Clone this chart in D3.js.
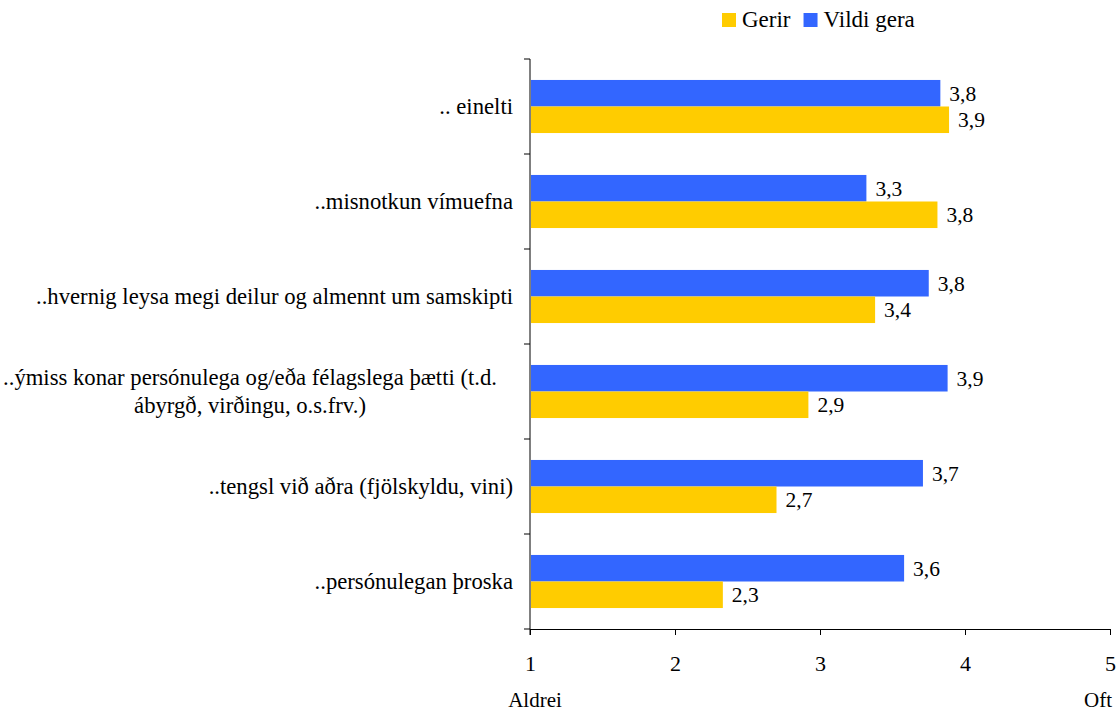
<!DOCTYPE html>
<html>
<head>
<meta charset="utf-8">
<script src="https://cdn.jsdelivr.net/npm/d3@7"></script>
<style>
  body { margin: 0; background: #fff; }
</style>
</head>
<body>
<div id="chart"></div>
<script>
const categories = [
  [".. einelti"],
  ["..misnotkun vímuefna"],
  ["..hvernig leysa megi deilur og almennt um samskipti"],
  ["..ýmiss konar persónulega og/eða félagslega þætti (t.d.", "ábyrgð, virðingu, o.s.frv.)"],
  ["..tengsl við aðra (fjölskyldu, vini)"],
  ["..persónulegan þroska"],
];
const vildiGera = [3.83, 3.32, 3.75, 3.88, 3.71, 3.58];
const gerir = [3.89, 3.81, 3.38, 2.92, 2.70, 2.33];
const series = [
  { name: "Vildi gera", values: vildiGera, color: "#3366ff" },
  { name: "Gerir", values: gerir, color: "#ffcc00" },
];
const legendOrder = ["Gerir", "Vildi gera"];
const xTicks = [1, 2, 3, 4, 5];

const width = 1119, height = 711;
const plot = { left: 530, right: 1110, top: 59, bottom: 629 };
const font = "'Liberation Serif', 'Times New Roman', serif";

const svg = d3.select("#chart").append("svg")
  .attr("width", width).attr("height", height)
  .style("font-family", font);

const x = d3.scaleLinear().domain([1, 5]).range([plot.left, plot.right]);
const y = d3.scaleBand().domain(d3.range(categories.length)).range([plot.top, plot.bottom]);
const inner = d3.scaleBand().domain(series.map(s => s.name))
  .range([0, y.bandwidth()]).paddingOuter(0.79).paddingInner(0);

const fmt = v => d3.format(".1f")(v).replace(".", ",");

// bars + value labels
series.forEach(s => {
  const g = svg.append("g");
  g.selectAll("rect").data(s.values).join("rect")
    .attr("x", x(1) + 1)
    .attr("y", (d, i) => y(i) + inner(s.name))
    .attr("width", d => x(d) - x(1) - 1)
    .attr("height", inner.bandwidth())
    .attr("fill", s.color);
  g.selectAll("text").data(s.values).join("text")
    .attr("x", d => x(d) + 9)
    .attr("y", (d, i) => y(i) + inner(s.name) + inner.bandwidth() / 2)
    .attr("dy", "0.35em")
    .style("font-family", font)
    .attr("font-size", 21.5)
    .text(d => fmt(d));
});

// y axis (band boundaries)
const yAxisG = svg.append("g");
yAxisG.append("line")
  .attr("x1", plot.left).attr("x2", plot.left).attr("y1", plot.top).attr("y2", plot.bottom + 6)
  .attr("stroke", "#000");
yAxisG.selectAll("line.tick").data(d3.range(categories.length + 1)).join("line")
  .attr("class", "tick")
  .attr("x1", plot.left - 6).attr("x2", plot.left)
  .attr("y1", i => plot.top + i * y.step()).attr("y2", i => plot.top + i * y.step())
  .attr("stroke", "#000");

// category labels
const catSize = 22.7;
categories.forEach((lines, i) => {
  const cy = y(i) + y.bandwidth() / 2;
  const t = svg.append("text").attr("font-size", catSize).style("font-family", font);
  if (lines.length === 1) {
    t.attr("x", 513).attr("y", cy).attr("dy", "0.35em")
      .attr("text-anchor", "end").text(lines[0]);
  } else {
    const widths = lines.map(l => {
      const e = svg.append("text").attr("font-size", catSize).style("font-family", font).text(l);
      const w = e.node().getComputedTextLength();
      e.remove();
      return w;
    });
    const cx = 497 - d3.max(widths) / 2;
    lines.forEach((l, j) => {
      t.append("tspan").attr("x", cx)
        .attr("y", cy + (j - (lines.length - 1) / 2) * 28)
        .attr("dy", "0.35em")
        .attr("text-anchor", "middle").text(l);
    });
  }
});

// x axis
const xAxisG = svg.append("g").attr("transform", `translate(0,${plot.bottom})`)
  .call(d3.axisBottom(x).tickValues(xTicks).tickSize(6).tickSizeOuter(0).tickPadding(20)
    .tickFormat(d3.format("d")));
xAxisG.attr("font-family", null).attr("font-size", null);
xAxisG.select(".domain").attr("stroke", "#000");
xAxisG.selectAll("text").attr("font-size", 22).style("font-family", font);

svg.append("text").attr("x", x(1) + 5).attr("y", 707).style("font-family", font)
  .attr("text-anchor", "middle").attr("font-size", 21).text("Aldrei");
svg.append("text").attr("x", x(5) - 12).attr("y", 707).style("font-family", font)
  .attr("text-anchor", "middle").attr("font-size", 21).text("Oft");

// legend
const legend = svg.append("g").attr("transform", "translate(722,13)");
let lx = 0;
legendOrder.forEach(name => {
  const s = series.find(d => d.name === name);
  legend.append("rect").attr("x", lx).attr("y", 0).attr("width", 14).attr("height", 14)
    .attr("fill", s.color);
  const t = legend.append("text").attr("x", lx + 20).attr("y", 14).style("font-family", font)
    .attr("font-size", 23).text(name);
  lx += 20 + t.node().getComputedTextLength() + 13;
});
</script>
</body>
</html>
